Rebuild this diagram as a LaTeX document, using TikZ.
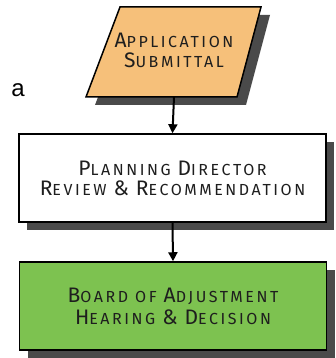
\documentclass[tikz,border=0pt]{standalone}
\usepackage{fontspec}
\setmainfont{Fira Sans}[LetterSpace=16]
\newfontfamily\arialfont{Liberation Sans}
\usetikzlibrary{arrows.meta,shadows}
\newcommand\KA[1]{{\fontsize{21}{21}\selectfont #1}}
\newcommand\KB[1]{{\fontsize{16}{16}\selectfont #1}}
\newcommand\WS{\hspace{7pt}}
\definecolor{appfill}{RGB}{246,192,122}
\definecolor{decfill}{RGB}{125,194,80}
\definecolor{shadowgray}{RGB}{74,74,74}
\definecolor{txtcol}{RGB}{30,30,30}
\tikzset{
  stepbox/.style={draw=black, line width=1.5pt, minimum width=307pt, minimum height=88pt,
    align=center, text=txtcol, inner sep=0pt,
    drop shadow={shadow xshift=8pt, shadow yshift=-8pt, fill=shadowgray, opacity=1}},
  txt/.style={align=center, text=txtcol, inner sep=0pt},
  arr/.style={line width=2pt, -{Triangle[length=9pt,width=9pt]}}
}
\begin{document}
\begin{tikzpicture}[x=1pt,y=-1pt]
\useasboundingbox (0,0) rectangle (336,358);
% parallelogram with shadow
\fill[shadowgray] (129,15) -- (270,15) -- (246,105) -- (95,105) -- cycle;
\draw[fill=appfill, line width=1.5pt] (120,7) -- (261,7) -- (237,97) -- (86,97) -- cycle;
\node[txt] (app) at (174,50) {\KA{A}\KB{PPLICATION}\\[4pt]\KA{S}\KB{UBMITTAL}};
\coordinate (appb) at (174,97);
\node[font=\arialfont\fontsize{24}{24}\selectfont, inner sep=0pt] (lbl) at (18,90) {a};
\node[stepbox, fill=white] (rev) at (172.5,178) {\KA{P}\KB{LANNING}\WS\KA{D}\KB{IRECTOR}\\[4pt]\KA{R}\KB{EVIEW}\WS\KA{\&}\WS\KA{R}\KB{ECOMMENDATION}};
\node[stepbox, fill=decfill] (dec) at (173,306) {\KA{B}\KB{OARD}\WS\KB{OF}\WS\KA{A}\KB{DJUSTMENT}\\[4pt]\KA{H}\KB{EARING}\WS\KA{\&}\WS\KA{D}\KB{ECISION}};
\draw[arr] (appb) -- (rev.north);
\draw[arr] (rev.south) -- (dec.north);
\end{tikzpicture}
\end{document}
